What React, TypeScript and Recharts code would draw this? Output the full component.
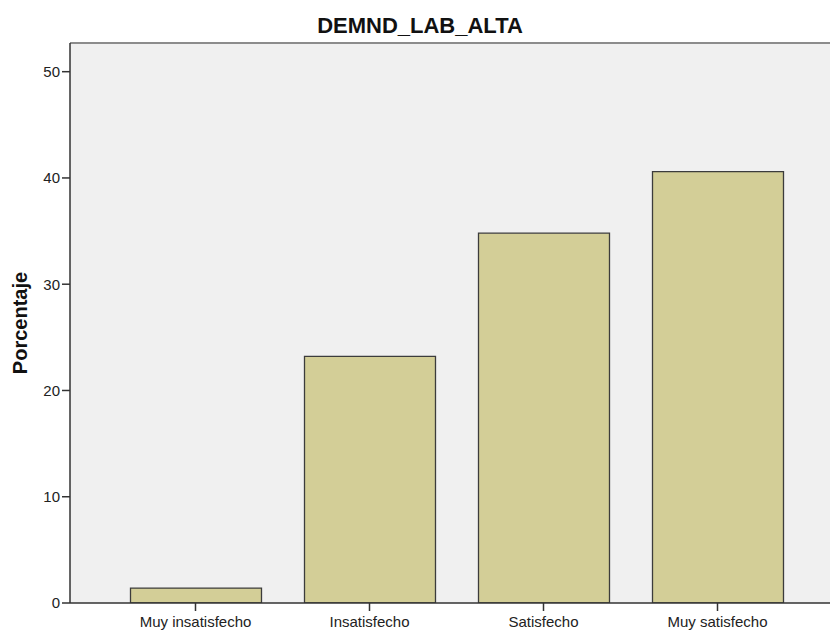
import { BarChart, Bar, XAxis, YAxis, CartesianGrid, ReferenceLine } from 'recharts';

const categories = ['Muy insatisfecho', 'Insatisfecho', 'Satisfecho', 'Muy satisfecho'];
const percentages = [1.4, 23.2, 34.8, 40.6];
const yTicks = [0, 10, 20, 30, 40, 50];
const yMax = 52.7;
const title = 'DEMND_LAB_ALTA';
const yLabel = 'Porcentaje';

const data = categories.map((name, i) => ({ name, value: percentages[i] }));

const FONT = '"Liberation Sans", Arial, sans-serif';

export default function App() {
  return (
    <div style={{ position: 'absolute', left: 0, top: 0, width: 830, height: 630, background: '#fff', fontFamily: FONT }}>
      <BarChart width={830} height={630} data={data} margin={{ top: 43, right: 0, bottom: 0, left: 0 }} barCategoryGap={0}>
        <CartesianGrid fill="#F0F0F0" stroke="none" horizontal={false} vertical={false} />
        <ReferenceLine y={yMax} stroke="#8c8c8c" strokeWidth={2} ifOverflow="visible" />
        <XAxis
          dataKey="name"
          height={27}
          padding={{ left: 38.5, right: 25.5 }}
          axisLine={{ stroke: '#333', strokeWidth: 1.5 }}
          tickLine={{ stroke: '#333', strokeWidth: 1.5 }}
          tickSize={8}
          tickMargin={5}
          tick={{ fill: '#222', fontSize: 15, fontFamily: FONT }}
          interval={0}
        />
        <YAxis
          width={70}
          domain={[0, yMax]}
          ticks={yTicks}
          allowDataOverflow
          axisLine={{ stroke: '#333', strokeWidth: 1.5 }}
          tickLine={{ stroke: '#333', strokeWidth: 1.5 }}
          tickSize={8}
          tickMargin={2}
          tick={{ fill: '#222', fontSize: 15, fontFamily: FONT }}
        />
        <Bar dataKey="value" barSize={131} fill="#D3CE97" stroke="#3c3c3c" strokeWidth={1.3} isAnimationActive={false} />
      </BarChart>
      <svg width={830} height={630} style={{ position: 'absolute', left: 0, top: 0, pointerEvents: 'none' }}>
        <text x={420} y={33} textAnchor="middle" fontSize={22} fontWeight="bold" fill="#111" fontFamily={FONT}>
          {title}
        </text>
        <text x={27} y={323} transform="rotate(-90 27 323)" textAnchor="middle" fontSize={20} fontWeight="bold" fill="#111" fontFamily={FONT}>
          {yLabel}
        </text>
      </svg>
    </div>
  );
}
